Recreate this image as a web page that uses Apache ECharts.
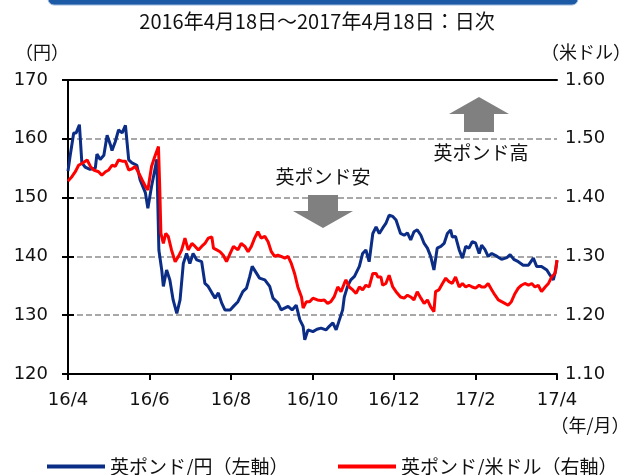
<!DOCTYPE html>
<html>
<head>
<meta charset="utf-8">
<script src="https://cdn.jsdelivr.net/npm/echarts@6/dist/echarts.min.js"></script>
<style>
  html, body { margin: 0; padding: 0; background: #fff; }
  #chart { width: 628px; height: 475px; }
</style>
</head>
<body>
<div id="chart"></div>
<script>
// x軸ラベル（2か月ごと）
const monthLabels = ['16/4', '16/6', '16/8', '16/10', '16/12', '17/2', '17/4'];

// 英ポンド/円（左軸）: [開始からの月数, 円]
const gbpJpy = [
  [0, 154.5], [0.05, 157], [0.14, 161], [0.20, 161], [0.28, 162.4], [0.34, 155.9], [0.42, 155.2],
  [0.54, 154.8], [0.67, 155], [0.71, 157.4], [0.79, 156.5], [0.88, 157.2], [0.96, 160.6], [1.04, 159],
  [1.08, 158], [1.16, 159.5], [1.24, 161.5], [1.33, 161], [1.41, 162.3], [1.49, 156.4], [1.57, 155.9],
  [1.69, 155.5], [1.77, 153], [1.90, 150.8], [1.96, 148.2], [2.05, 151.9], [2.13, 154.7], [2.18, 156.5],
  [2.23, 141.1], [2.30, 137.7], [2.34, 134.9], [2.42, 137.7], [2.50, 136], [2.58, 132.6], [2.67, 130.3],
  [2.75, 132.6], [2.83, 138.8], [2.91, 140.5], [2.99, 138.8], [3.07, 140.5], [3.16, 139.4], [3.28, 139.1],
  [3.36, 135.4], [3.44, 134.9], [3.53, 133.8], [3.61, 132.9], [3.69, 133.8], [3.77, 132.1], [3.85, 130.9],
  [3.98, 130.9], [4.06, 131.5], [4.17, 132.3], [4.29, 134], [4.38, 134.6], [4.46, 136.6], [4.52, 138.3],
  [4.62, 137.2], [4.70, 136.3], [4.83, 136], [4.95, 134.9], [5.03, 132.9], [5.15, 132.1], [5.23, 130.9],
  [5.40, 131.5], [5.50, 130.9], [5.60, 131.7], [5.69, 129.2], [5.77, 128.1], [5.81, 125.8], [5.89, 127.5],
  [6.01, 127.2], [6.11, 127.6], [6.21, 127.8], [6.33, 127.5], [6.41, 128.1], [6.50, 128.7], [6.58, 127.5],
  [6.66, 129.2], [6.74, 130.9], [6.78, 133.1], [6.86, 134.9], [6.94, 136], [7.03, 136.6], [7.15, 138.3],
  [7.23, 140.5], [7.31, 141.1], [7.39, 139.1], [7.48, 143.9], [7.56, 145], [7.64, 143.9], [7.72, 144.8],
  [7.80, 145.6], [7.88, 147], [7.97, 146.8], [8.05, 146.2], [8.16, 143.9], [8.25, 143.6], [8.33, 144],
  [8.41, 142.8], [8.49, 144.2], [8.57, 144.5], [8.66, 143.6], [8.74, 142.2], [8.82, 141.4], [8.90, 140],
  [8.98, 137.7], [9.06, 141.4], [9.15, 141.7], [9.23, 142.2], [9.31, 143.9], [9.39, 144.5], [9.43, 143.3],
  [9.51, 143.4], [9.60, 141.1], [9.68, 139.7], [9.76, 141.7], [9.84, 141.4], [9.92, 142.5], [10.00, 142.3],
  [10.09, 140.5], [10.15, 141.9], [10.23, 141.2], [10.31, 140], [10.40, 140.5], [10.53, 140], [10.64, 139.5],
  [10.77, 139.8], [10.85, 140.3], [10.94, 139.5], [11.05, 139.1], [11.17, 138.5], [11.30, 138.5],
  [11.42, 139.7], [11.50, 138.3], [11.62, 138.3], [11.75, 137.7], [11.83, 136.8], [11.91, 136],
  [11.97, 137.7], [12, 139.3]
];

// 英ポンド/米ドル（右軸）: [開始からの月数, 米ドル]
const gbpUsd = [
  [0, 1.428], [0.03, 1.430], [0.10, 1.436], [0.18, 1.444], [0.26, 1.455], [0.34, 1.458], [0.47, 1.464],
  [0.55, 1.453], [0.63, 1.447], [0.75, 1.444], [0.83, 1.438], [0.92, 1.444], [1.00, 1.447], [1.08, 1.455],
  [1.16, 1.453], [1.24, 1.464], [1.33, 1.462], [1.41, 1.462], [1.49, 1.447], [1.57, 1.449], [1.65, 1.453],
  [1.72, 1.444], [1.82, 1.430], [1.90, 1.419], [1.96, 1.413], [2.05, 1.453], [2.13, 1.470], [2.22, 1.487],
  [2.25, 1.420], [2.28, 1.339], [2.34, 1.322], [2.40, 1.339], [2.46, 1.334], [2.54, 1.311], [2.63, 1.291],
  [2.71, 1.300], [2.79, 1.311], [2.87, 1.331], [2.95, 1.311], [3.04, 1.322], [3.12, 1.317], [3.20, 1.311],
  [3.28, 1.317], [3.36, 1.322], [3.44, 1.331], [3.53, 1.333], [3.57, 1.314], [3.65, 1.311], [3.73, 1.308],
  [3.81, 1.302], [3.89, 1.291], [3.98, 1.305], [4.06, 1.317], [4.17, 1.311], [4.25, 1.322], [4.34, 1.317],
  [4.42, 1.308], [4.50, 1.317], [4.58, 1.331], [4.66, 1.342], [4.74, 1.331], [4.83, 1.334], [4.91, 1.325],
  [4.99, 1.308], [5.07, 1.300], [5.15, 1.302], [5.23, 1.300], [5.32, 1.297], [5.40, 1.300], [5.48, 1.288],
  [5.56, 1.271], [5.64, 1.248], [5.73, 1.231], [5.77, 1.212], [5.85, 1.223], [5.93, 1.223], [6.01, 1.229],
  [6.12, 1.226], [6.21, 1.225], [6.29, 1.226], [6.37, 1.220], [6.45, 1.223], [6.53, 1.231], [6.62, 1.248],
  [6.70, 1.240], [6.78, 1.254], [6.82, 1.260], [6.90, 1.248], [6.99, 1.243], [7.07, 1.237], [7.15, 1.248],
  [7.23, 1.243], [7.31, 1.251], [7.39, 1.248], [7.48, 1.271], [7.56, 1.271], [7.60, 1.265], [7.68, 1.265],
  [7.72, 1.251], [7.80, 1.254], [7.88, 1.268], [7.97, 1.248], [8.05, 1.240], [8.16, 1.231], [8.25, 1.229],
  [8.33, 1.234], [8.41, 1.231], [8.49, 1.226], [8.57, 1.240], [8.66, 1.229], [8.74, 1.220], [8.82, 1.226],
  [8.90, 1.214], [8.98, 1.206], [9.02, 1.240], [9.10, 1.243], [9.19, 1.254], [9.27, 1.263], [9.35, 1.257],
  [9.43, 1.254], [9.51, 1.265], [9.60, 1.248], [9.68, 1.254], [9.76, 1.248], [9.84, 1.251], [9.92, 1.248],
  [10.00, 1.246], [10.09, 1.251], [10.15, 1.248], [10.23, 1.248], [10.31, 1.254], [10.40, 1.243],
  [10.48, 1.234], [10.56, 1.226], [10.64, 1.223], [10.72, 1.220], [10.80, 1.217], [10.88, 1.223],
  [10.97, 1.237], [11.05, 1.246], [11.13, 1.251], [11.21, 1.254], [11.30, 1.251], [11.38, 1.254],
  [11.46, 1.248], [11.54, 1.251], [11.62, 1.240], [11.71, 1.248], [11.79, 1.254], [11.87, 1.265],
  [11.95, 1.271], [12, 1.294]
];

const NUM_FONT = 'DejaVu Sans, Verdana, sans-serif';
const JP_FONT = 'Noto Sans CJK JP, sans-serif';
const NAVY = '#0b2d86';
const RED = '#ff0000';

const chart = echarts.init(document.getElementById('chart'));

chart.setOption({
  animation: false,
  grid: { left: 68, right: 71, top: 80, bottom: 101 },
  legend: [
    {
      left: 42, top: 452,
      icon: 'rect', itemWidth: 58, itemHeight: 4, itemGap: 6,
      textStyle: { fontFamily: JP_FONT, fontSize: 19, color: '#111' },
      data: ['英ポンド/円（左軸）']
    },
    {
      left: 333, top: 452,
      icon: 'rect', itemWidth: 58, itemHeight: 4, itemGap: 6,
      textStyle: { fontFamily: JP_FONT, fontSize: 19, color: '#111' },
      data: ['英ポンド/米ドル（右軸）']
    }
  ],
  xAxis: [
    {
      type: 'value', min: 0, max: 12, interval: 2,
      axisLine: { show: true, lineStyle: { color: '#000', width: 2 } },
      axisTick: { show: true, length: 6, lineStyle: { color: '#000', width: 2 } },
      splitLine: { show: false },
      axisLabel: {
        margin: 17, color: '#111', fontFamily: NUM_FONT, fontSize: 18,
        formatter: v => monthLabels[Math.round(v / 2)]
      }
    },
    {
      // 上枠線のみ
      type: 'value', position: 'top', min: 0, max: 12,
      axisLine: { show: true, lineStyle: { color: '#000', width: 2 } },
      axisTick: { show: false }, axisLabel: { show: false }, splitLine: { show: false }
    }
  ],
  yAxis: [
    {
      type: 'value', min: 120, max: 170, interval: 10,
      axisLine: { show: true, lineStyle: { color: '#000', width: 2 } },
      axisTick: { show: true, length: 6, lineStyle: { color: '#000', width: 2 } },
      splitLine: { show: true, lineStyle: { color: '#8c8c8c', width: 1.5, type: [6, 3] } },
      axisLabel: { margin: 20, color: '#111', fontFamily: NUM_FONT, fontSize: 18 }
    },
    {
      type: 'value', min: 1.1, max: 1.6, interval: 0.1,
      axisLine: { show: true, lineStyle: { color: '#000', width: 2 } },
      axisTick: { show: true, length: 6, lineStyle: { color: '#000', width: 2 } },
      splitLine: { show: false },
      axisLabel: {
        margin: 8, color: '#111', fontFamily: NUM_FONT, fontSize: 18,
        formatter: v => v.toFixed(2)
      }
    }
  ],
  series: [
    {
      name: '英ポンド/円（左軸）', type: 'line', yAxisIndex: 0,
      data: gbpJpy, showSymbol: false, z: 3,
      lineStyle: { color: NAVY, width: 3 }, itemStyle: { color: NAVY }
    },
    {
      name: '英ポンド/米ドル（右軸）', type: 'line', yAxisIndex: 1,
      data: gbpUsd, showSymbol: false, z: 4,
      lineStyle: { color: RED, width: 3 }, itemStyle: { color: RED }
    }
  ],
  graphic: [
    // 上部の青い帯
    { type: 'rect', shape: { x: 48, y: -10, width: 530, height: 15, r: 6 },
      style: { fill: '#1d5aa6', stroke: '#9db8dc', lineWidth: 1 } },
    { type: 'text', x: 317, y: 21,
      style: { text: '2016年4月18日～2017年4月18日：日次', fontFamily: JP_FONT, fontSize: 20,
        fill: '#111', align: 'center', verticalAlign: 'middle' } },
    { type: 'text', x: 42, y: 52,
      style: { text: '（円）', fontFamily: JP_FONT, fontSize: 18, fill: '#111',
        align: 'center', verticalAlign: 'middle' } },
    { type: 'text', x: 586, y: 52,
      style: { text: '（米ドル）', fontFamily: JP_FONT, fontSize: 18, fill: '#111',
        align: 'center', verticalAlign: 'middle' } },
    { type: 'text', x: 590, y: 425,
      style: { text: '（年/月）', fontFamily: JP_FONT, fontSize: 18, fill: '#111',
        align: 'center', verticalAlign: 'middle' } },
    // 英ポンド安
    { type: 'text', x: 323, y: 177,
      style: { text: '英ポンド安', fontFamily: JP_FONT, fontSize: 19, fill: '#111',
        align: 'center', verticalAlign: 'middle' } },
    { type: 'polygon', z: 10,
      shape: { points: [[308, 195], [338, 195], [338, 211], [353, 211], [323, 228], [293, 211], [308, 211]] },
      style: { fill: '#808080' } },
    // 英ポンド高
    { type: 'text', x: 481, y: 153,
      style: { text: '英ポンド高', fontFamily: JP_FONT, fontSize: 19, fill: '#111',
        align: 'center', verticalAlign: 'middle' } },
    { type: 'polygon', z: 10,
      shape: { points: [[479, 97], [509, 114], [494, 114], [494, 132], [464, 132], [464, 114], [449, 114]] },
      style: { fill: '#808080' } }
  ]
});
</script>
</body>
</html>
